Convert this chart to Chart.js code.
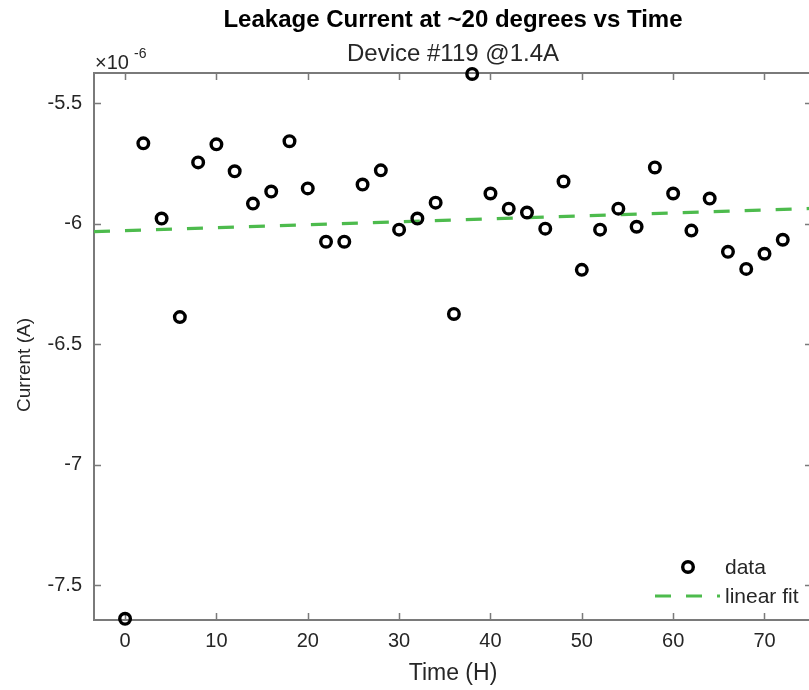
<!DOCTYPE html>
<html>
<head>
<meta charset="utf-8">
<script src="https://cdn.jsdelivr.net/npm/chart.js@4.4.0/dist/chart.umd.min.js"></script>
<style>
  html, body { margin: 0; padding: 0; background: #fff; overflow: hidden; }
  #wrap { width: 830px; height: 690px; }
</style>
</head>
<body>
<div id="wrap"><canvas id="myChart" width="830" height="690"></canvas></div>
<script>
// time in hours
var hours = [0, 2, 4, 6, 8, 10, 12, 14, 16, 18, 20, 22, 24, 26, 28, 30, 32, 34, 36,
  38, 40, 42, 44, 46, 48, 50, 52, 54, 56, 58, 60, 62, 64, 66, 68, 70, 72];
// current, in units of 1e-6 A
var current = [-7.64, -5.667, -5.979, -6.388, -5.746, -5.671, -5.783, -5.917, -5.867,
  -5.658, -5.854, -6.075, -6.075, -5.838, -5.779, -6.025, -5.979, -5.913, -6.375,
  -5.379, -5.875, -5.938, -5.954, -6.021, -5.825, -6.192, -6.025, -5.938, -6.013,
  -5.767, -5.875, -6.029, -5.896, -6.117, -6.188, -6.125, -6.067];
// linear fit end points
var fitX = [-3.4, 75.2];
var fitY = [-6.033, -5.937];

var xTicks = [0, 10, 20, 30, 40, 50, 60, 70];
var yTicks = [-7.5, -7, -6.5, -6, -5.5];
var yTickLabels = ["-7.5", "-7", "-6.5", "-6", "-5.5"];

var FONT = "'Liberation Sans', Arial, sans-serif";
var GREEN = "#4dbb4d";
var AXIS = "#7a7a7a";
var TXT = "#262626";

var scatterData = hours.map((h, i) => ({ x: h, y: current[i] }));
var fitData = fitX.map((x, i) => ({ x: x, y: fitY[i] }));

// box, inward ticks, titles and legend the MATLAB way
var matlabDecor = {
  id: "matlabDecor",
  beforeDatasetsDraw(chart) {
    var ctx = chart.ctx, a = chart.chartArea;
    var xs = chart.scales.x, ys = chart.scales.y;
    ctx.save();
    ctx.strokeStyle = AXIS;
    ctx.lineWidth = 2;
    ctx.strokeRect(a.left, a.top, a.right - a.left, a.bottom - a.top);
    ctx.beginPath();
    xTicks.forEach((t) => {
      var px = Math.round(xs.getPixelForValue(t)) + 0.5;
      ctx.moveTo(px, a.bottom); ctx.lineTo(px, a.bottom - 7);
      ctx.moveTo(px, a.top); ctx.lineTo(px, a.top + 7);
    });
    yTicks.forEach((t) => {
      var py = Math.round(ys.getPixelForValue(t)) + 0.5;
      ctx.moveTo(a.left, py); ctx.lineTo(a.left + 7, py);
      ctx.moveTo(a.right, py); ctx.lineTo(a.right - 7, py);
    });
    ctx.lineWidth = 1.5;
    ctx.stroke();
    ctx.restore();
  },
  afterDraw(chart) {
    var ctx = chart.ctx, a = chart.chartArea;
    var cx = (a.left + a.right) / 2;
    ctx.save();
    ctx.textAlign = "center";
    ctx.textBaseline = "middle";
    ctx.fillStyle = "#000";
    ctx.font = "bold 24px " + FONT;
    ctx.fillText("Leakage Current at ~20 degrees vs Time", cx, 20);
    ctx.fillStyle = TXT;
    ctx.font = "24px " + FONT;
    ctx.fillText("Device #119 @1.4A", cx, 54);

    // exponent label
    ctx.textAlign = "left";
    ctx.textBaseline = "alphabetic";
    ctx.font = "20px " + FONT;
    ctx.fillText("\u00d710", 95, 69);
    ctx.font = "14px " + FONT;
    ctx.fillText("-6", 134, 58);

    // axis titles
    ctx.font = "23px " + FONT;
    ctx.textAlign = "center";
    ctx.textBaseline = "middle";
    ctx.fillText("Time (H)", cx, 674);
    ctx.font = "19px " + FONT;
    ctx.save();
    ctx.translate(25, 365);
    ctx.rotate(-Math.PI / 2);
    ctx.fillText("Current (A)", 0, 0);
    ctx.restore();

    // legend
    ctx.textAlign = "left";
    ctx.font = "21px " + FONT;
    ctx.fillStyle = TXT;
    ctx.fillText("data", 725, 568);
    ctx.fillText("linear fit", 725, 597);
    ctx.beginPath();
    ctx.arc(688, 567, 5.3, 0, Math.PI * 2);
    ctx.lineWidth = 3.4;
    ctx.strokeStyle = "#000";
    ctx.stroke();
    ctx.beginPath();
    ctx.setLineDash([16, 15]);
    ctx.moveTo(655, 596); ctx.lineTo(720, 596);
    ctx.lineWidth = 3.2;
    ctx.strokeStyle = GREEN;
    ctx.stroke();
    ctx.restore();
  }
};

var canvas = document.getElementById("myChart");
var myChart = new Chart(canvas, {
  type: "scatter",
  data: {
    datasets: [{
      label: "data",
      data: scatterData,
      pointStyle: "circle",
      pointRadius: 5.3,
      pointHoverRadius: 5.3,
      pointBorderWidth: 3.4,
      pointBorderColor: "#000",
      pointBackgroundColor: "rgba(0,0,0,0)",
      showLine: false,
      clip: false,
      order: 1
    }, {
      label: "linear fit",
      type: "line",
      data: fitData,
      borderColor: GREEN,
      borderWidth: 3.2,
      borderDash: [16, 15],
      pointRadius: 0,
      fill: false,
      order: 2
    }]
  },
  options: {
    responsive: false,
    animation: false,
    events: [],
    layout: { padding: { left: 0, top: 73, right: 18, bottom: 0 } },
    plugins: { legend: { display: false }, title: { display: false }, tooltip: { enabled: false } },
    scales: {
      x: {
        type: "linear",
        min: fitX[0],
        max: fitX[1],
        afterBuildTicks: (s) => { s.ticks = xTicks.map((v) => ({ value: v })); },
        afterFit: (s) => { s.height = 70; },
        grid: { display: false, drawTicks: false },
        border: { display: false },
        ticks: { padding: 9, color: TXT, font: { family: FONT, size: 20 }, maxRotation: 0 }
      },
      y: {
        type: "linear",
        min: -7.645,
        max: -5.375,
        afterBuildTicks: (s) => { s.ticks = yTicks.map((v) => ({ value: v })); },
        afterFit: (s) => { s.width = 94; },
        grid: { display: false, drawTicks: false },
        border: { display: false },
        ticks: {
          padding: 12, color: TXT, font: { family: FONT, size: 20 },
          callback: (v) => yTickLabels[yTicks.indexOf(v)]
        }
      }
    }
  },
  plugins: [matlabDecor]
});
</script>
</body>
</html>
